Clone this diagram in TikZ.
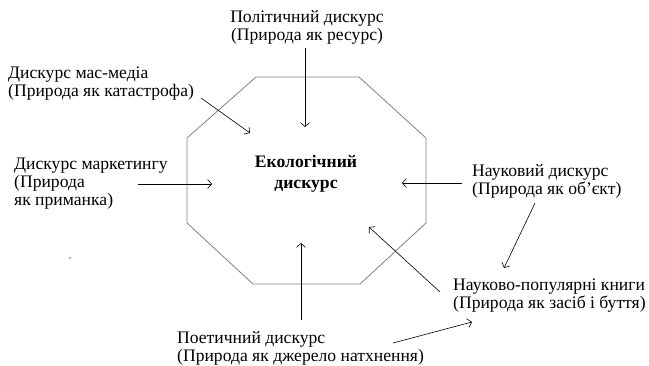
\documentclass[tikz,border=0pt]{standalone}
\usepackage{fontspec}
\setmainfont{Liberation Serif}
\usetikzlibrary{arrows.meta}
\tikzset{
  lbl/.style={inner sep=0pt, anchor=base west, font=\fontsize{17.6}{18}\selectfont},
  octa/.style={draw=black!50, line width=0.8pt},
  arr/.style={draw=black, line width=0.6pt, -{Straight Barb[length=4pt,width=9pt]}},
}
\newcommand{\lines}[2][l]{\begin{tabular}[t]{@{}#1@{}}#2\end{tabular}}
\begin{document}
\begin{tikzpicture}[x=1pt,y=-1pt]
\useasboundingbox (0,0) rectangle (649,365);
% octagon
\draw[octa] (256,77) -- (359,77) -- (426,138) -- (426,223) -- (360,284) -- (253,284) -- (187,223) -- (187,138) -- cycle;
% labels
\node[lbl, anchor=base] (pol) at (307,22) {\lines[c]{Політичний дискурс\\(Природа як ресурс)}};
\node[lbl] (mas) at (8,78) {\lines{Дискурс мас-медіа\\(Природа як катастрофа)}};
\node[lbl] (mar) at (14,169) {\lines{Дискурс маркетингу\\(Природа\\як приманка)}};
\node[lbl, anchor=base, font=\fontsize{17.6}{21}\selectfont\bfseries] (eco) at (306,167) {\lines[c]{Екологічний\\дискурс}};
\node[lbl] (nauk) at (472,176) {\lines{Науковий дискурс\\(Природа як об’єкт)}};
\node[lbl] (pop) at (453,290) {\lines{Науково-популярні книги\\(Природа як засіб і буття)}};
\node[lbl] (poet) at (177,343) {\lines{Поетичний дискурс\\(Природа як джерело натхнення)}};
% arrow end points
\coordinate (a1s) at (305,48);  \coordinate (a1e) at (305,127);
\coordinate (a2s) at (201,98);  \coordinate (a2e) at (250,133);
\coordinate (a3s) at (138,184); \coordinate (a3e) at (212,184);
\coordinate (a4s) at (462,183); \coordinate (a4e) at (402,183);
\coordinate (a5s) at (301,320); \coordinate (a5e) at (301,243);
\coordinate (a6s) at (440,292); \coordinate (a6e) at (369,227);
\coordinate (a7s) at (535,203); \coordinate (a7e) at (504,268);
\coordinate (a8s) at (393,343); \coordinate (a8e) at (472,322);
\draw[arr] (a1s) -- (a1e);
\draw[arr] (a2s) -- (a2e);
\draw[arr] (a3s) -- (a3e);
\draw[arr] (a4s) -- (a4e);
\draw[arr] (a5s) -- (a5e);
\draw[arr] (a6s) -- (a6e);
\draw[arr] (a7s) -- (a7e);
\draw[arr] (a8s) -- (a8e);
% stray dot
\fill[black!60] (70,258) circle (0.8);
\end{tikzpicture}
\end{document}
